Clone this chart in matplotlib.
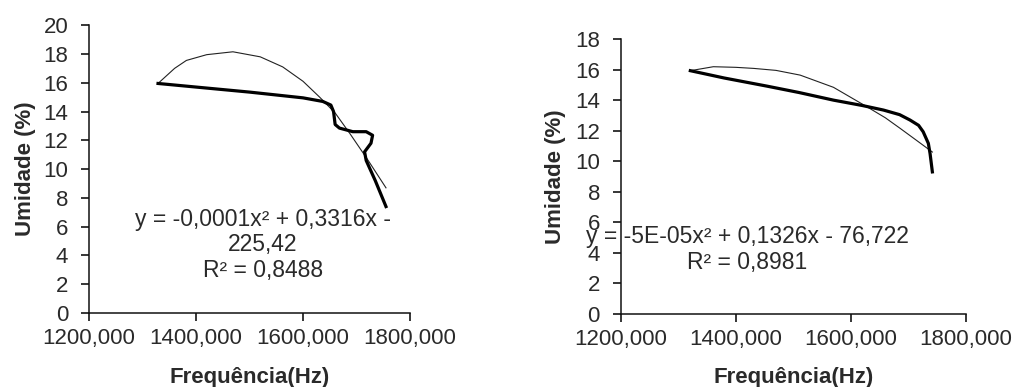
import matplotlib
matplotlib.use("Agg")
import matplotlib.pyplot as plt
from matplotlib.ticker import FuncFormatter

plt.rcParams["font.family"] = ["Liberation Sans", "DejaVu Sans"]

# left panel: measured humidity vs frequency (thick) and trend curve (thin)
freq_a = [1329, 1400, 1500, 1600, 1637, 1652, 1657, 1660, 1668, 1693, 1718, 1730, 1727,
          1715, 1718, 1735, 1755]
umid_a = [15.95, 15.7, 15.35, 14.95, 14.7, 14.45, 14.0, 13.1, 12.85, 12.6, 12.6, 12.35, 11.8,
          11.2, 10.6, 9.2, 7.4]
trend_freq_a = [1329, 1360, 1382, 1420, 1469, 1520, 1562, 1600, 1631, 1660, 1687, 1720, 1755]
trend_umid_a = [15.95, 17.0, 17.55, 17.95, 18.15, 17.8, 17.1, 16.1, 15.0, 13.9, 12.5, 10.7, 8.7]

# right panel
freq_b = [1321, 1380, 1454, 1510, 1570, 1620, 1657, 1685, 1703, 1718, 1726, 1735, 1738, 1742]
umid_b = [15.93, 15.45, 14.92, 14.5, 14.0, 13.65, 13.35, 13.05, 12.7, 12.35, 11.93, 11.17,
          10.5, 9.3]
trend_freq_b = [1321, 1361, 1400, 1431, 1470, 1512, 1570, 1628, 1660, 1686, 1715, 1742]
trend_umid_b = [15.93, 16.19, 16.15, 16.08, 15.95, 15.64, 14.84, 13.57, 12.85, 12.15, 11.35, 10.6]

eq_a = "y = -0,0001x² + 0,3316x -\n225,42\nR² = 0,8488"
eq_b = "y = -5E-05x² + 0,1326x - 76,722"
r2_b = "R² = 0,8981"

text_color = "#2a2a2a"
fs = 16
fmt = FuncFormatter(lambda v, p: f"{v:.3f}".replace(".", ","))


def style_axes(ax, ymax):
    ax.set_xlim(1200, 1800)
    ax.set_ylim(0, ymax)
    ax.set_xticks([1200, 1400, 1600, 1800])
    ax.set_yticks(range(0, ymax + 1, 2))
    ax.xaxis.set_major_formatter(fmt)
    for s in ["top", "right"]:
        ax.spines[s].set_visible(False)
    for s in ["left", "bottom"]:
        ax.spines[s].set_linewidth(1.1)
        ax.spines[s].set_color("#111111")
    ax.tick_params(direction="out", length=6, width=1.1, labelsize=fs,
                   labelcolor=text_color)
    ax.tick_params(axis="y", pad=9)
    ax.tick_params(axis="x", pad=5)


fig = plt.figure(figsize=(10.16, 3.87), dpi=100)

ax1 = fig.add_axes([0.0876, 0.191, 0.316, 0.744])
ax1.plot(trend_freq_a, trend_umid_a, color="#222222", lw=0.8)
ax1.plot(freq_a, umid_a, color="black", lw=2.3)
style_axes(ax1, 20)
ax1.text(1525, 4.75, eq_a, ha="center", va="center", fontsize=16.5, color=text_color,
         linespacing=1.13)

ax2 = fig.add_axes([0.611, 0.189, 0.3395, 0.71])
ax2.plot(trend_freq_b, trend_umid_b, color="#222222", lw=0.8)
ax2.plot(freq_b, umid_b, color="black", lw=2.3)
style_axes(ax2, 18)
# the equation sits over the 4 and 6 tick labels, as in the original figure
ax2.text(1420, 5.05, eq_b, ha="center", va="center", fontsize=16.5, color=text_color)
ax2.text(1420, 3.35, r2_b, ha="center", va="center", fontsize=16.5, color=text_color)

# axis titles
lab = dict(fontsize=fs, fontweight="bold", color=text_color, ha="center", va="center")
fig.text(250 / 1016, 1 - 377 / 387, "Frequência(Hz)", **lab)
fig.text(794 / 1016, 1 - 377 / 387, "Frequência(Hz)", **lab)
fig.text(25 / 1016, 1 - 169 / 387, "Umidade (%)", rotation=90, **lab)
fig.text(555 / 1016, 1 - 177 / 387, "Umidade (%)", rotation=90, **lab)

fig.savefig("out.png", dpi=100)
